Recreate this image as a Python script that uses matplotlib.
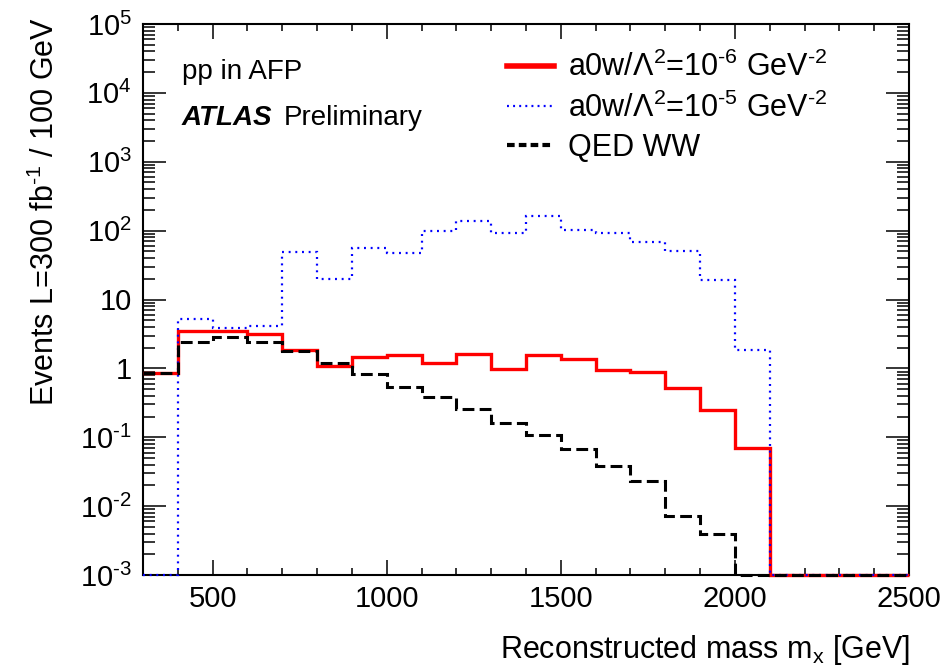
import numpy as np
import matplotlib
matplotlib.use("Agg")
import matplotlib.pyplot as plt
from matplotlib.ticker import MultipleLocator, LogLocator, FuncFormatter, NullFormatter
from matplotlib.lines import Line2D

plt.rcParams['font.family'] = ['Liberation Sans', 'DejaVu Sans']
plt.rcParams['mathtext.fontset'] = 'custom'
plt.rcParams['mathtext.rm'] = 'Liberation Sans'
plt.rcParams['mathtext.it'] = 'Liberation Sans:italic'
plt.rcParams['mathtext.bf'] = 'Liberation Sans:bold'
plt.rcParams['lines.scale_dashes'] = False

# ---- data ----
bin_edges = np.arange(300, 2501, 100)
a0w_1e6 = [0.87, 3.5, 3.45, 3.2, 1.85, 1.1, 1.48, 1.58, 1.2, 1.6, 0.98, 1.56,
           1.36, 0.95, 0.88, 0.52, 0.25, 0.07, 0, 0, 0, 0]
a0w_1e5 = [0, 5.2, 3.83, 4.18, 49, 19.9, 55.5, 48, 99, 138, 92, 165,
           103, 92, 69, 51, 19, 1.85, 0, 0, 0, 0]
qed_ww = [0.85, 2.45, 2.84, 2.43, 1.8, 1.19, 0.82, 0.545, 0.38, 0.26, 0.163, 0.108,
          0.068, 0.0385, 0.0235, 0.0071, 0.0039, 0, 0, 0, 0, 0]
labels = [u'a0w/\u039b$^{2}$=10$^{\\text{-}6}$ GeV$^{\\text{-}2}$',
          u'a0w/\u039b$^{2}$=10$^{\\text{-}5}$ GeV$^{\\text{-}2}$',
          'QED WW']
ymin, ymax = 1e-3, 1e5

W, H = 947, 670
fig = plt.figure(figsize=(W / 100, H / 100), dpi=100)
ax = fig.add_axes([143 / W, 95 / H, (909 - 143) / W, (575 - 24) / H])
ax.set_yscale('log')
ax.set_xlim(300, 2500)
ax.set_ylim(ymin, ymax)

def floor(v):
    return np.maximum(np.asarray(v, dtype=float), ymin)

ax.stairs(floor(a0w_1e6), bin_edges, baseline=None, color='#ff0000', lw=2.4,
          zorder=3, clip_on=False)
ax.stairs(floor(a0w_1e5), bin_edges, baseline=None, color='#0000ff', lw=1.6,
          linestyle=(0, (1.4, 3.4)), zorder=3, clip_on=False)
ax.stairs(floor(qed_ww), bin_edges, baseline=None, color='black', lw=2.2,
          linestyle=(0, (8.5, 3.8)), zorder=3, clip_on=False)

# ticks
ax.xaxis.set_major_locator(MultipleLocator(500))
ax.xaxis.set_minor_locator(MultipleLocator(100))
ax.yaxis.set_major_locator(LogLocator(base=10, numticks=20))
ax.yaxis.set_minor_locator(LogLocator(base=10, subs=np.arange(2, 10), numticks=200))
ax.yaxis.set_minor_formatter(NullFormatter())

def yfmt(v, pos):
    e = int(round(np.log10(v)))
    if e == 0:
        return '1'
    if e == 1:
        return '10'
    if e < 0:
        return r'10$^{\text{-}%d}$' % (-e)
    return r'10$^{%d}$' % e

ax.yaxis.set_major_formatter(FuncFormatter(yfmt))
ax.tick_params(which='both', direction='in', top=True, right=True, width=1.1)
ax.tick_params(axis='x', which='major', length=11, pad=7, labelsize=21)
ax.tick_params(axis='x', which='minor', length=5)
ax.tick_params(axis='y', which='major', length=16.5, pad=8, labelsize=21)
ax.tick_params(axis='y', which='minor', length=8.6)
for s in ax.spines.values():
    s.set_linewidth(1.5)

fig.text(910 / W, 1 - 650 / H, r'Reconstructed mass m$_{\mathrm{x}}$ [GeV]', fontsize=22,
         ha='right', va='center')
fig.text(45 / W, 1 - 17 / H, 'Events L=300 fb$^{\\text{-}1}$ / 100 GeV', fontsize=22,
         rotation=90, ha='center', va='top')

# annotations
fig.text(182 / W, 1 - 72 / H, 'pp in AFP', fontsize=20, ha='left', va='center')
t_atlas = fig.text(182 / W, 1 - 118 / H, 'ATLAS', fontsize=20, fontweight='bold',
                   fontstyle='italic', ha='left', va='center')
fig.canvas.draw()
bb = t_atlas.get_window_extent(renderer=fig.canvas.get_renderer())
fig.text((bb.x1 + 11) / W, 1 - 118 / H, 'Preliminary', fontsize=20, ha='left', va='center')

leg_handles = [Line2D([], [], color='#ff0000', lw=4),
               Line2D([], [], color='#0000ff', lw=1.6, linestyle=(0, (1.4, 3.0))),
               Line2D([], [], color='black', lw=3, linestyle=(0, (5.5, 3.0)))]
ax.legend(handles=leg_handles, labels=labels, loc='upper left',
          bbox_to_anchor=(507 / W, 1 - 52 / H), bbox_transform=fig.transFigure,
          frameon=False, fontsize=22, handlelength=1.55, handletextpad=0.45,
          borderpad=0, borderaxespad=0, labelspacing=0.3)

fig.savefig('out.png', dpi=100)
